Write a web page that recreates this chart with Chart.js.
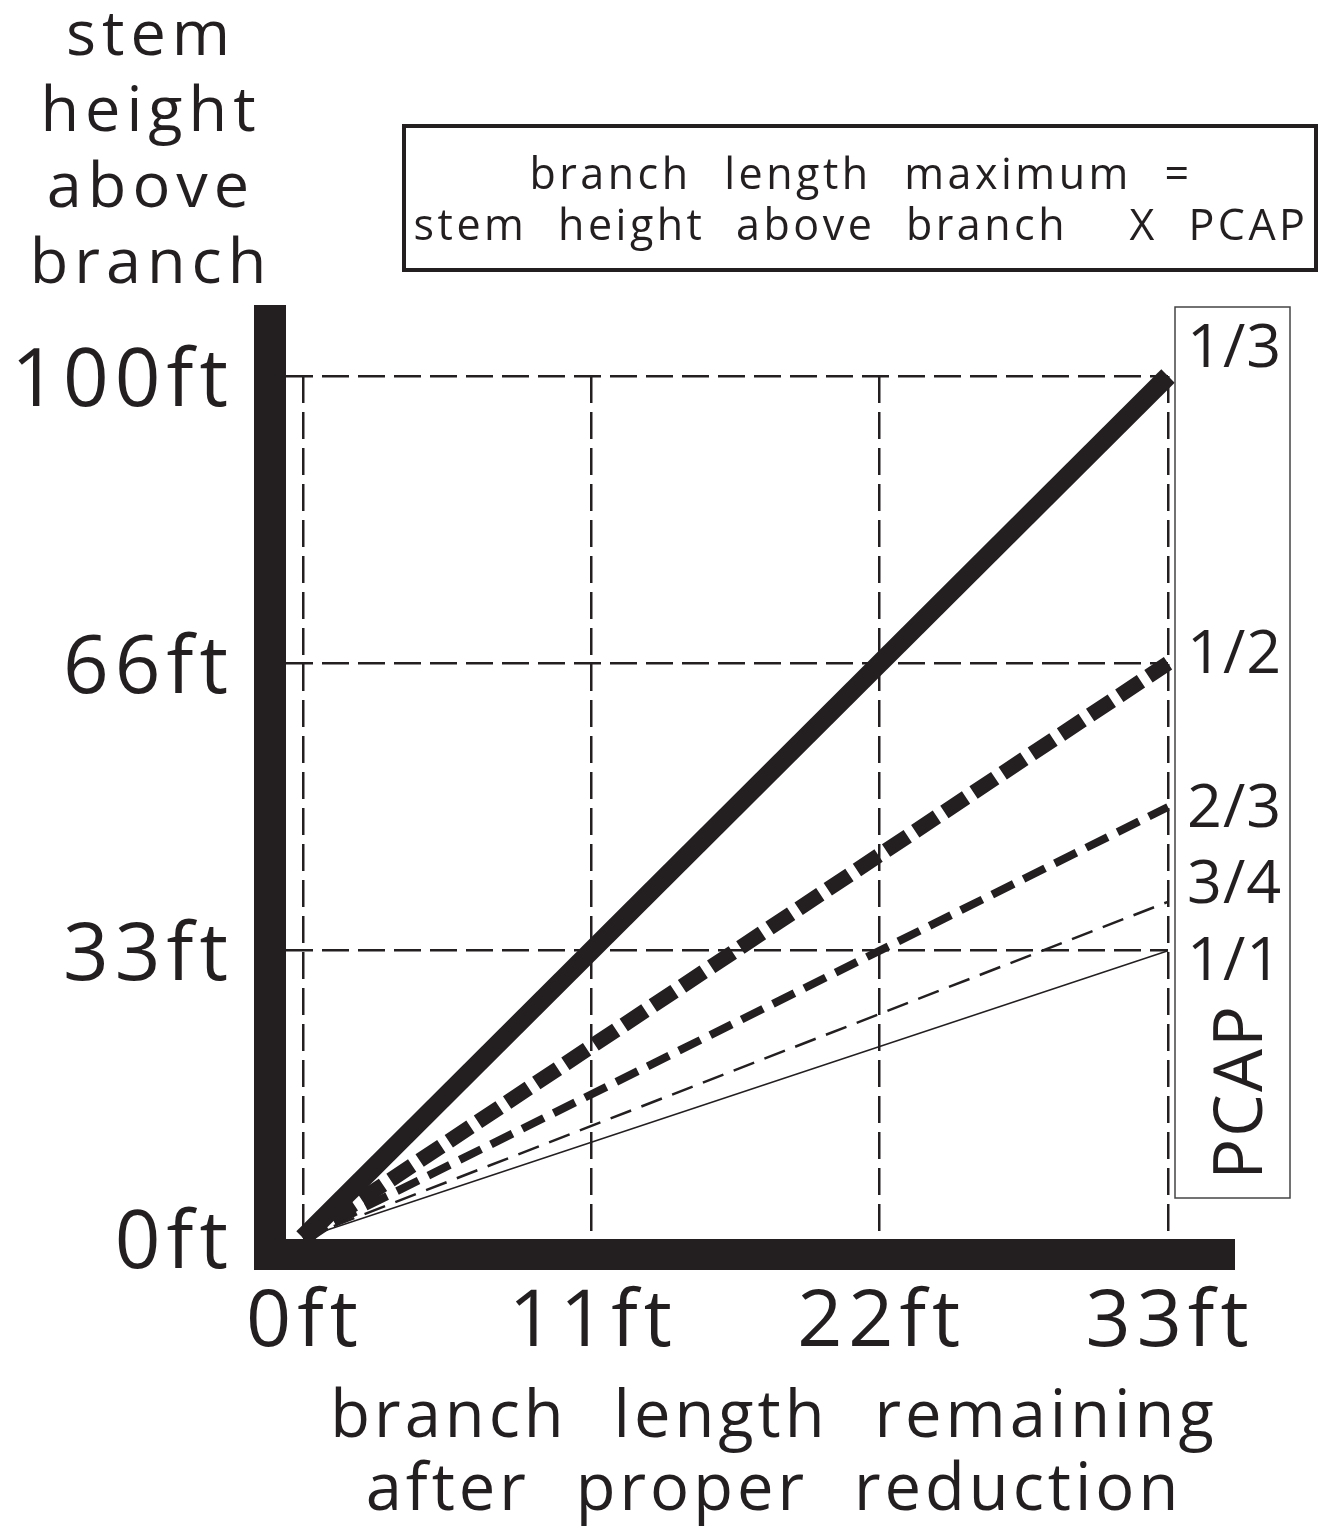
<!DOCTYPE html>
<html lang="en">
  <head>
    <meta charset="UTF-8" />
    <title>PCAP branch length chart</title>
    <script src="https://cdn.jsdelivr.net/npm/chart.js"></script>
    <style>
      body {
        margin: 0;
        background: #fff;
      }
      #chartContainer {
        position: relative;
        width: 1320px;
        height: 1527px;
      }
    </style>
  </head>
  <body>
    <div id="chartContainer">
      <canvas id="myChart"></canvas>
    </div>

    <script>
      const INK = "#231f20";
      const FONT = "'Open Sans', sans-serif";

      // chart values
      const pcapLabels = ["1/3", "1/2", "2/3", "3/4", "1/1"];
      const branchLength = [0, 33];
      const stemHeightStart = [0, 0, 0, 0, 0];
      const stemHeightEnd = [100, 66.67, 50, 39, 33.33];
      const xTickValues = [0, 11, 22, 33];
      const xTickLabels = ["0ft", "11ft", "22ft", "33ft"];
      const yTickValues = [0, 33.33, 66.67, 100];
      const yTickLabels = ["0ft", "33ft", "66ft", "100ft"];

      // line styles per PCAP
      const lineWidths = [19, 15, 8, 2.5, 1.5];
      const lineDashes = [[], [26, 9], [24, 11], [22, 11], []];
      const labelShift = [-9, 10, 20, 1, 29];

      const datasets = pcapLabels.map((label, i) => ({
        label: label,
        data: [
          { x: branchLength[0], y: stemHeightStart[i] },
          { x: branchLength[1], y: stemHeightEnd[i] },
        ],
        borderColor: INK,
        borderWidth: lineWidths[i],
        borderDash: lineDashes[i],
        borderCapStyle: "butt",
        pointRadius: 0,
        fill: false,
        tension: 0,
        clip: false,
      }));

      function drawText(ctx, str, x, y, size, opts = {}) {
        ctx.save();
        ctx.font = size + "px " + FONT;
        ctx.fillStyle = INK;
        ctx.textAlign = opts.align || "center";
        ctx.textBaseline = "alphabetic";
        ctx.letterSpacing = (opts.ls || 0) + "px";
        ctx.wordSpacing = (opts.ws || 0) + "px";
        if (opts.rotate) {
          ctx.translate(x, y);
          ctx.rotate(opts.rotate);
          ctx.fillText(str, 0, 0);
        } else {
          ctx.fillText(str, x, y);
        }
        ctx.restore();
      }

      const decor = {
        id: "decor",
        beforeDraw(chart) {
          chart.ctx.letterSpacing = "6px";
        },
        afterDatasetsDraw(chart) {
          // heavy axis bars
          const ctx = chart.ctx;
          const a = chart.chartArea;
          ctx.save();
          ctx.fillStyle = INK;
          ctx.fillRect(a.left - 32, a.top - 71, 32, a.bottom - a.top + 103);
          ctx.fillRect(a.left - 32, a.bottom + 1, a.right - a.left + 99, 31);
          ctx.restore();
        },
        afterDraw(chart) {
          const ctx = chart.ctx;
          ctx.letterSpacing = "0px";

          // y axis title
          ["stem", "height", "above", "branch"].forEach((w, i) => {
            drawText(ctx, w, 151, 55 + i * 76, 63, { ls: 6 });
          });

          // formula box
          ctx.save();
          ctx.strokeStyle = INK;
          ctx.lineWidth = 4;
          ctx.strokeRect(404, 126, 912, 144);
          ctx.restore();
          drawText(ctx, "branch length maximum =", 861, 189, 43, { ls: 3.5, ws: 18 });
          drawText(ctx, "stem height above branch  X PCAP", 861, 240, 43, { ls: 3.5, ws: 16 });

          // x axis title
          drawText(ctx, "branch length remaining", 774, 1437, 65, { ls: 4, ws: 25 });
          drawText(ctx, "after proper reduction", 774, 1510, 65, { ls: 4, ws: 25 });

          // PCAP legend column
          ctx.save();
          ctx.strokeStyle = "#444";
          ctx.lineWidth = 1.5;
          ctx.strokeRect(1175, 307, 115, 891);
          ctx.restore();
          pcapLabels.forEach((label, i) => {
            const pts = chart.getDatasetMeta(i).data;
            const yEnd = pts[pts.length - 1].y;
            drawText(ctx, label, 1187, yEnd + labelShift[i], 61, { align: "left", ls: 1 });
          });
          drawText(ctx, "PCAP", 1262, 1092, 68, { ls: 2, rotate: -Math.PI / 2 });
        },
      };

      const ctx = document.getElementById("myChart").getContext("2d");
      const myChart = new Chart(ctx, {
        type: "line",
        data: { datasets: datasets },
        options: {
          responsive: true,
          maintainAspectRatio: false,
          animation: false,
          events: [],
          layout: {
            padding: { left: 0, right: 152, top: 376, bottom: 0 },
          },
          plugins: {
            legend: { display: false },
            tooltip: { enabled: false },
          },
          scales: {
            x: {
              type: "linear",
              min: -0.65,
              max: 33,
              afterBuildTicks: (scale) => {
                scale.ticks = xTickValues.map((v) => ({ value: v }));
              },
              afterFit: (scale) => {
                scale.height = 289;
              },
              ticks: {
                callback: (value, index) => xTickLabels[index],
                font: { family: FONT, size: 79 },
                color: INK,
                padding: 38,
                labelOffset: 2,
                autoSkip: false,
                maxRotation: 0,
                minRotation: 0,
              },
              grid: { color: INK, lineWidth: 2.5, drawTicks: false },
              border: { display: false, dash: [27, 9] },
            },
            y: {
              type: "linear",
              min: 0,
              max: 100,
              afterBuildTicks: (scale) => {
                scale.ticks = yTickValues.map((v) => ({ value: v }));
              },
              afterFit: (scale) => {
                scale.width = 286;
              },
              ticks: {
                callback: (value, index) => yTickLabels[index],
                font: { family: FONT, size: 80 },
                color: INK,
                padding: 52,
                labelOffset: 7,
                autoSkip: false,
              },
              grid: {
                color: (c) => (c.tick && c.tick.value === 0 ? "rgba(0,0,0,0)" : INK),
                lineWidth: 2.5,
                drawTicks: false,
              },
              border: { display: false, dash: [27, 9] },
            },
          },
        },
        plugins: [decor],
      });
    </script>
  </body>
</html>
